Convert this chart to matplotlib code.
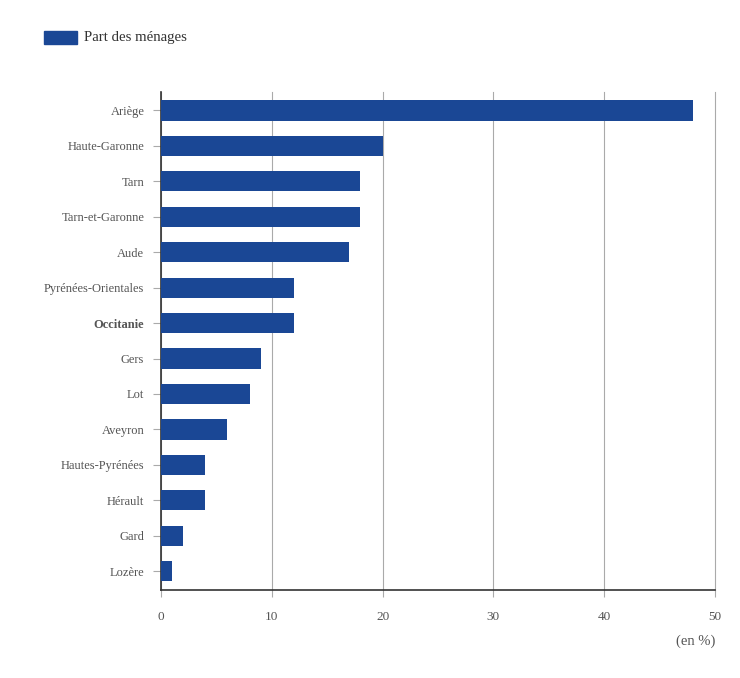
import matplotlib
matplotlib.use("Agg")
import matplotlib.pyplot as plt
from matplotlib.patches import Rectangle

categories = ["Ariège", "Haute-Garonne", "Tarn", "Tarn-et-Garonne", "Aude",
              "Pyrénées-Orientales", "Occitanie", "Gers", "Lot", "Aveyron",
              "Hautes-Pyrénées", "Hérault", "Gard", "Lozère"]
values = [48, 20, 18, 18, 17, 12, 12, 9, 8, 6, 4, 4, 2, 1]
xticks = [0, 10, 20, 30, 40, 50]
series_name = "Part des ménages"

plt.rcParams['font.family'] = ['Liberation Serif', 'DejaVu Serif']
bar_color = "#1a4795"
text_color = "#555555"

fig = plt.figure(figsize=(7.4, 6.78), dpi=100)
ax = fig.add_axes([161/740, 1-590/678, (715-161)/740, (590-92)/678])

pos = list(range(len(categories)))
ax.barh(pos, values, height=0.57, color=bar_color, zorder=3)
ax.set_ylim(len(categories) - 0.47, -0.52)
ax.set_xlim(0, 50)
ax.set_xticks(xticks)
ax.set_xticklabels([str(t) for t in xticks])
ax.set_yticks(pos)
ax.set_yticklabels(categories)
for lbl in ax.get_yticklabels():
    if lbl.get_text() == "Occitanie":
        lbl.set_fontweight("bold")
        lbl.set_color("#444444")

ax.grid(axis='x', color="#aaaaaa", linewidth=0.8, zorder=0)
for gl in ax.get_xgridlines():
    gl.set_clip_on(False)
for s in ["top", "right"]:
    ax.spines[s].set_visible(False)
for s in ["left", "bottom"]:
    ax.spines[s].set_color("#333333")
    ax.spines[s].set_linewidth(1.2)

ax.tick_params(axis='y', length=6, color="#aaaaaa", pad=6, labelsize=9, labelcolor=text_color)
ax.tick_params(axis='x', length=5, color="#aaaaaa", pad=10, labelsize=9.5, labelcolor=text_color)

fig.text(715/740, 1-641/678, "(en %)", ha='right', va='center', fontsize=10.5, color=text_color)

fig.patches.append(Rectangle((44/740, 1-44/678), 33/740, 13/678, transform=fig.transFigure,
                             color=bar_color, figure=fig))
fig.text(84/740, 1-38/678, series_name, ha='left', va='center', fontsize=10.7, color="#333333")

fig.savefig("out.png", dpi=100, facecolor="white")
